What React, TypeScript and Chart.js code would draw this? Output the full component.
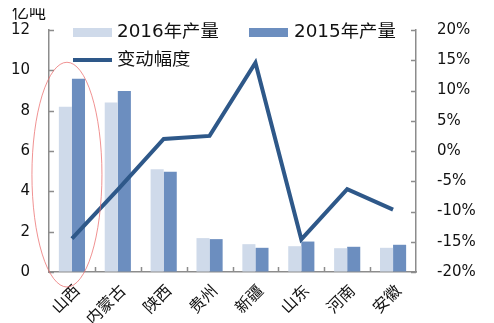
import React, { useEffect, useRef } from "react";
import { Chart, registerables } from "chart.js";

Chart.register(...registerables);

// Coal output by province (100 million tonnes) and year-on-year change (%)
const provinces = ["山西", "内蒙古", "陕西", "贵州", "新疆", "山东", "河南", "安徽"];
const output2016 = [8.2, 8.4, 5.1, 1.68, 1.38, 1.28, 1.18, 1.2];
const output2015 = [9.58, 8.97, 4.97, 1.63, 1.2, 1.51, 1.25, 1.35];
const changePct = [-14.5, -6.4, 2.0, 2.5, 14.6, -14.6, -6.3, -9.7];

const seriesNames = ["2016年产量", "2015年产量", "变动幅度"];
const unitLabel = "亿吨";

const FONT = "'DejaVu Sans', 'Noto Sans CJK SC', sans-serif";
const AXIS_COLOR = "#8c8c8c";
const LIGHT_BAR = "#cfdaea";
const DARK_BAR = "#6c8ebf";
const LINE_COLOR = "#2e5889";
const TEXT_COLOR = "#111111";

// draws text stretched slightly wider, as in the original artwork
function wideText(ctx: CanvasRenderingContext2D, text: string, x: number, y: number, sx: number) {
  ctx.save();
  ctx.translate(x, y);
  ctx.scale(sx, 1);
  ctx.fillText(text, 0, 0);
  ctx.restore();
}

const decorations = {
  id: "decorations",
  afterDraw(chart: any) {
    const { ctx, chartArea } = chart;
    const x = chart.scales.x;
    const y = chart.scales.y;
    const y1 = chart.scales.y1;
    ctx.save();

    // inward tick marks on all three axes
    ctx.strokeStyle = AXIS_COLOR;
    ctx.lineWidth = 1.5;
    ctx.beginPath();
    y.ticks.forEach((t: any) => {
      const py = Math.round(y.getPixelForValue(t.value)) + 0.5;
      ctx.moveTo(chartArea.left, py);
      ctx.lineTo(chartArea.left + 5, py);
    });
    y1.ticks.forEach((t: any) => {
      const py = Math.round(y1.getPixelForValue(t.value)) + 0.5;
      ctx.moveTo(chartArea.right - 5, py);
      ctx.lineTo(chartArea.right, py);
    });
    const n = provinces.length;
    for (let i = 1; i < n; i++) {
      const px = Math.round(chartArea.left + (i * (chartArea.right - chartArea.left)) / n) + 0.5;
      ctx.moveTo(px, chartArea.bottom);
      ctx.lineTo(px, chartArea.bottom - 5);
    }
    ctx.stroke();

    // unit label above the left axis
    ctx.fillStyle = TEXT_COLOR;
    ctx.font = `17px ${FONT}`;
    ctx.textBaseline = "middle";
    ctx.textAlign = "left";
    ctx.fillText(unitLabel, 12, 14);

    // legend inside the plot
    ctx.fillStyle = LIGHT_BAR;
    ctx.fillRect(73, 28, 39, 9);
    ctx.fillStyle = DARK_BAR;
    ctx.fillRect(249, 28, 39, 9);
    ctx.strokeStyle = LINE_COLOR;
    ctx.lineWidth = 4;
    ctx.beginPath();
    ctx.moveTo(73, 60);
    ctx.lineTo(112, 60);
    ctx.stroke();
    ctx.fillStyle = TEXT_COLOR;
    ctx.font = `17px ${FONT}`;
    wideText(ctx, seriesNames[0], 117, 33, 1.08);
    wideText(ctx, seriesNames[1], 294, 33, 1.08);
    wideText(ctx, seriesNames[2], 117, 61, 1.08);

    // highlight ring around the first province
    const cx = x.getPixelForValue(0) - 5;
    const top = y.getPixelForValue(10.4);
    const bottom = chartArea.bottom + 15;
    ctx.strokeStyle = "rgba(235, 110, 110, 0.75)";
    ctx.lineWidth = 1;
    ctx.beginPath();
    ctx.ellipse(cx, (top + bottom) / 2, 35, (bottom - top) / 2, 0, 0, Math.PI * 2);
    ctx.stroke();

    ctx.restore();
  },
};

export default function App() {
  const canvasRef = useRef<HTMLCanvasElement | null>(null);

  useEffect(() => {
    if (!canvasRef.current) return;
    const chart = new Chart(canvasRef.current, {
      type: "bar",
      data: {
        labels: provinces,
        datasets: [
          {
            type: "line",
            label: seriesNames[2],
            data: changePct,
            yAxisID: "y1",
            borderColor: LINE_COLOR,
            borderWidth: 4,
            pointRadius: 0,
            tension: 0,
            order: 0,
          } as any,
          {
            label: seriesNames[0],
            data: output2016,
            yAxisID: "y",
            backgroundColor: LIGHT_BAR,
            barPercentage: 1,
            categoryPercentage: 0.57,
            order: 1,
          },
          {
            label: seriesNames[1],
            data: output2015,
            yAxisID: "y",
            backgroundColor: DARK_BAR,
            barPercentage: 1,
            categoryPercentage: 0.57,
            order: 1,
          },
        ],
      },
      options: {
        animation: false,
        responsive: true,
        maintainAspectRatio: false,
        layout: { padding: { top: 17, left: 0, right: 0, bottom: 0 } },
        plugins: {
          legend: { display: false },
          tooltip: { enabled: false },
        },
        scales: {
          x: {
            grid: { display: true, drawOnChartArea: false, drawTicks: false },
            border: { display: true, color: AXIS_COLOR, width: 1.5 },
            ticks: {
              color: TEXT_COLOR,
              font: { family: FONT, size: 16 },
              maxRotation: 45,
              minRotation: 45,
              padding: 10,
              labelOffset: 6,
              autoSkip: false,
            },
            afterFit: (s: any) => {
              s.height = 51;
            },
          },
          y: {
            position: "left",
            min: 0,
            max: 12,
            grid: { display: true, drawOnChartArea: false, drawTicks: false },
            border: { display: true, color: AXIS_COLOR, width: 1.5 },
            ticks: {
              stepSize: 2,
              color: TEXT_COLOR,
              font: { family: FONT, size: 15 },
              padding: 19,
            },
            afterFit: (s: any) => {
              s.width = 49;
            },
          },
          y1: {
            position: "right",
            min: -20,
            max: 20,
            grid: { display: true, drawOnChartArea: false, drawTicks: false },
            border: { display: true, color: AXIS_COLOR, width: 1.5 },
            ticks: {
              stepSize: 5,
              color: TEXT_COLOR,
              font: { family: FONT, size: 15 },
              padding: 21,
              callback: (v: any) => `${v}%`,
            },
            afterFit: (s: any) => {
              s.width = 78;
            },
          },
        },
      },
      plugins: [decorations],
    });
    return () => chart.destroy();
  }, []);

  return (
    <div style={{ width: 494, height: 323, position: "relative", margin: "-8px 0 0 -8px" }}>
      <canvas ref={canvasRef} />
    </div>
  );
}
